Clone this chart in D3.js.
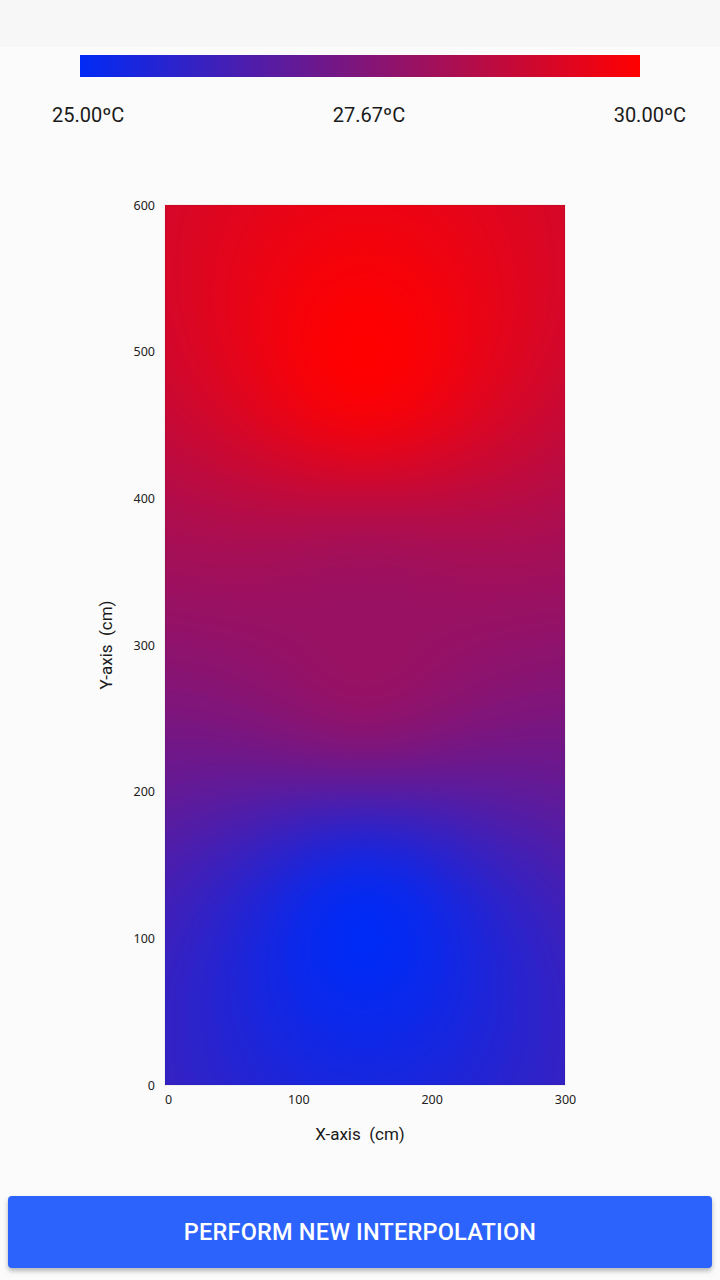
<!DOCTYPE html>
<html>
<head>
<meta charset="utf-8">
<script src="https://cdn.jsdelivr.net/npm/d3@7"></script>
<style>
  html, body { margin: 0; padding: 0; width: 720px; height: 1280px; overflow: hidden; background: #fbfbfb; font-family: Roboto, "Noto Sans", sans-serif; }
  #topbar { position: absolute; left: 0; top: 0; width: 720px; height: 47px; background: #f7f7f7; }
  #chart { position: absolute; left: 0; top: 0; }
  #btn { position: absolute; left: 8px; top: 1196px; width: 704px; height: 72px; background: #2c63fd; border-radius: 4px;
         box-shadow: 0 3px 5px rgba(0,0,0,0.28); color: #fff; font-family: Roboto, sans-serif; font-weight: 500; font-size: 23.5px;
         display: flex; align-items: center; justify-content: center; letter-spacing: 0.2px; }
</style>
</head>
<body>
<div id="topbar"></div>
<svg id="chart" width="720" height="1280"></svg>
<div id="btn">PERFORM NEW INTERPOLATION</div>
<script>
// ---- data ----
const sensorX = [150, 150, 150];        // cm
const sensorY = [100, 300, 500];        // cm
const sensorTemp = [25.0, 28.0, 30.0];  // ºC
const legendValues = [25.00, 27.67, 30.00];
const xTicks = [0, 100, 200, 300];
const yTicks = [0, 100, 200, 300, 400, 500, 600];
const xDomain = [0, 300];
const yDomain = [0, 600];
const colorStops = ["rgb(0,42,245)", "rgb(255,0,0)"];

// ---- layout ----
const plot = { left: 165, right: 565, top: 205, bottom: 1085 };
const svg = d3.select("#chart");

const x = d3.scaleLinear().domain(xDomain).range([plot.left, plot.right]);
const y = d3.scaleLinear().domain(yDomain).range([plot.bottom, plot.top]);
const color = d3.scaleLinear().domain([d3.min(sensorTemp), d3.max(sensorTemp)])
  .range(colorStops).interpolate(d3.interpolateRgb).clamp(true);

// ---- legend colour bar ----
const lg = svg.append("defs").append("linearGradient").attr("id", "lg");
d3.range(0, 1.0001, 0.1).forEach(t => {
  lg.append("stop").attr("offset", t).attr("stop-color", color(color.domain()[0] + t * (color.domain()[1] - color.domain()[0])));
});
const legendX = d3.scaleLinear().domain([legendValues[0], legendValues[2]]).range([80, 640]);
svg.append("rect").attr("x", legendX(legendValues[0])).attr("y", 55)
  .attr("width", legendX(legendValues[2]) - legendX(legendValues[0])).attr("height", 22).attr("fill", "url(#lg)");

const labelPos = [52, 369, 686];
const anchors = ["start", "middle", "end"];
svg.selectAll("text.leg").data(legendValues).join("text").attr("class", "leg")
  .attr("x", (d, i) => labelPos[i]).attr("y", 122)
  .attr("text-anchor", (d, i) => anchors[i])
  .attr("font-size", 20).attr("fill", "#1a1a1a")
  .text(d => d.toFixed(2) + "ºC");

// ---- interpolated field (IDW, power 2) ----
const W = plot.right - plot.left, H = plot.bottom - plot.top;
const cv = document.createElement("canvas");
cv.width = W; cv.height = H;
const ctx = cv.getContext("2d");
const img = ctx.createImageData(W, H);
for (let py = 0; py < H; py++) {
  const dy = y.invert(plot.top + py + 0.5);
  for (let px = 0; px < W; px++) {
    const dx = x.invert(plot.left + px + 0.5);
    let ws = 0, vs = 0, exact = null;
    for (let k = 0; k < sensorTemp.length; k++) {
      const d2 = (dx - sensorX[k]) ** 2 + (dy - sensorY[k]) ** 2;
      if (d2 < 1e-9) { exact = sensorTemp[k]; break; }
      const w = 1 / d2;
      ws += w; vs += w * sensorTemp[k];
    }
    const v = exact !== null ? exact : vs / ws;
    const c = d3.rgb(color(v));
    const i = (py * W + px) * 4;
    img.data[i] = c.r; img.data[i + 1] = c.g; img.data[i + 2] = c.b; img.data[i + 3] = 255;
  }
}
ctx.putImageData(img, 0, 0);
svg.append("image").attr("x", plot.left).attr("y", plot.top).attr("width", W).attr("height", H)
  .attr("href", cv.toDataURL());
svg.append("rect").attr("x", plot.left).attr("y", plot.top).attr("width", W).attr("height", H)
  .attr("fill", "none").attr("stroke", "rgba(0,0,0,0.08)").attr("stroke-width", 1);

// ---- axes ----
const ax = svg.append("g").attr("transform", `translate(0,${plot.bottom})`)
  .call(d3.axisBottom(x).tickValues(xTicks).tickSize(0).tickPadding(10));
const ay = svg.append("g").attr("transform", `translate(${plot.left},0)`)
  .call(d3.axisLeft(y).tickValues(yTicks).tickSize(0).tickPadding(10));
[ax, ay].forEach(g => {
  g.select(".domain").remove();
  g.selectAll("text").attr("font-family", "'Noto Sans', 'Open Sans', sans-serif").attr("font-size", 12.5).attr("fill", "#222");
});
ax.selectAll(".tick").filter(d => d === 0).select("text").attr("dx", 3);

svg.append("text").attr("x", 360).attr("y", 1140).attr("text-anchor", "middle")
  .attr("font-size", 17).attr("fill", "#1a1a1a").style("white-space", "pre").text("X-axis  (cm)");
svg.append("text").attr("transform", `translate(112,${(plot.top + plot.bottom) / 2}) rotate(-90)`)
  .attr("text-anchor", "middle").attr("font-size", 17).attr("fill", "#1a1a1a").style("white-space", "pre").text("Y-axis  (cm)");
</script>
</body>
</html>
